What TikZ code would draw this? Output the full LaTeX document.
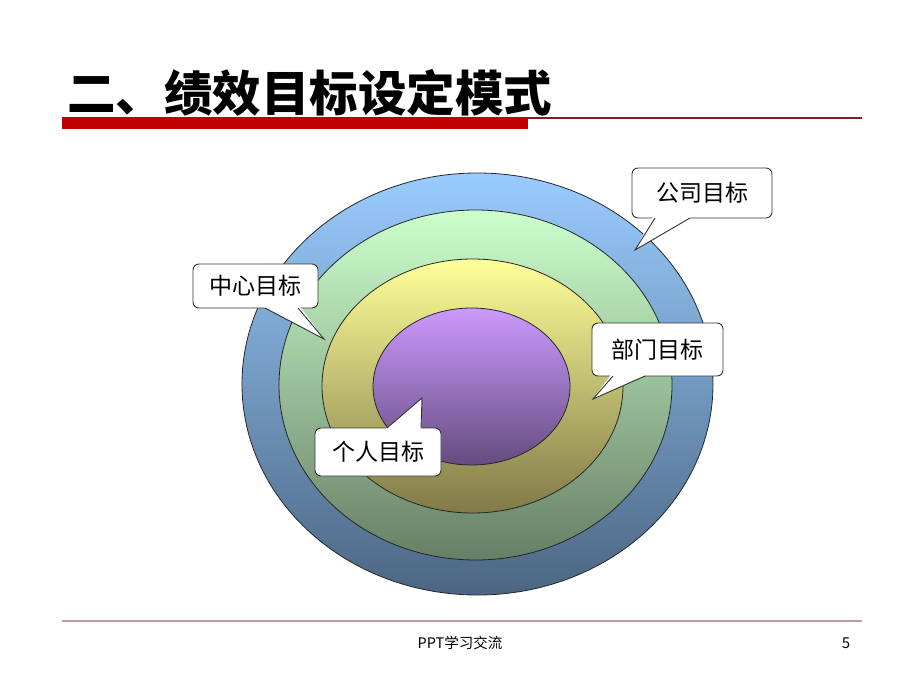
\documentclass[tikz,border=0pt]{standalone}
\usepackage{fontspec}
\setmainfont{Noto Sans CJK SC}
\usetikzlibrary{shapes.geometric}
\definecolor{titlered}{HTML}{C00000}
\definecolor{thinred}{HTML}{7F2020}
\definecolor{footline}{HTML}{C09A9A}
\definecolor{blueT}{HTML}{99CCFF}\definecolor{blueB}{HTML}{4C6682}
\definecolor{greenT}{HTML}{CCFFCC}\definecolor{greenB}{HTML}{667F66}
\definecolor{yelT}{HTML}{FFFF99}\definecolor{yelB}{HTML}{7F7A48}
\definecolor{purT}{HTML}{CC99FF}\definecolor{purB}{HTML}{654C7F}
\begin{document}
\begin{tikzpicture}[x=1pt,y=-1pt,
  ring/.style={ellipse, draw=black!85, line width=0.8pt, inner sep=0pt},
  callbox/.style={draw=black!80, line width=0.9pt, fill=white, rounded corners=6pt,
    inner sep=0pt, font=\fontsize{23}{23}\selectfont},
  pointer/.style={draw=black!80, line width=0.9pt, line join=miter},
  ]
\useasboundingbox (0,0) rectangle (920,690);
\fill[white] (0,0) rectangle (920,690);

% title
\node[anchor=west, font=\fontsize{48.5}{48.5}\selectfont\bfseries, inner sep=0pt] (title) at (67,93) {二、绩效目标设定模式};
\fill[thinred] (528,117.5) rectangle (862,119);
\fill[titlered] (62,117.5) rectangle (528,128.5);

% rings
\node[ring, minimum width=471pt, minimum height=422pt, top color=blueT, bottom color=blueB] (outer) at (477.5,384) {};
\node[ring, minimum width=393pt, minimum height=350pt, top color=greenT, bottom color=greenB] (center) at (475.5,385) {};
\node[ring, minimum width=301pt, minimum height=254pt, top color=yelT, bottom color=yelB] (dept) at (472.5,386) {};
\node[ring, minimum width=197pt, minimum height=157pt, top color=purT, bottom color=purB] (person) at (471.5,386.5) {};

% callout: company
\node[callbox, minimum width=140pt, minimum height=50pt] (c1) at (702,193) {公司目标};
\coordinate (t1) at (635,250);
\coordinate (a1) at (655,218); \coordinate (b1) at (690,218);
\fill[white] (653,216.5) -- (t1) -- (692,216.5) -- cycle;
\draw[pointer] (a1) -- (t1) -- (b1);

% callout: center
\node[callbox, minimum width=125pt, minimum height=44pt] (c2) at (255.5,286) {中心目标};
\coordinate (t2) at (324,339);
\coordinate (a2) at (265,308); \coordinate (b2) at (298,308);
\fill[white] (263,306.5) -- (t2) -- (300,306.5) -- cycle;
\draw[pointer] (a2) -- (t2) -- (b2);

% callout: department
\node[callbox, minimum width=131pt, minimum height=53pt] (c3) at (657.5,349.5) {部门目标};
\coordinate (t3) at (593,399);
\coordinate (a3) at (613,376); \coordinate (b3) at (645,376);
\fill[white] (611,374.5) -- (t3) -- (647,374.5) -- cycle;
\draw[pointer] (a3) -- (t3) -- (b3);

% callout: person
\node[callbox, minimum width=126pt, minimum height=48pt] (c4) at (378,452) {个人目标};
\coordinate (t4) at (422,398);
\coordinate (a4) at (387,428); \coordinate (b4) at (421,428);
\fill[white] (385,429.5) -- (t4) -- (421.2,429.5) -- cycle;
\draw[pointer] (a4) -- (t4) -- (b4);

% footer
\fill[footline] (62,619.5) rectangle (862,621.5);
\node[font=\fontsize{14.5}{14.5}\selectfont, inner sep=0pt] (foot) at (460,643) {PPT学习交流};
\node[font=\fontsize{15}{15}\selectfont, inner sep=0pt] (page) at (846,643) {5};
\end{tikzpicture}
\end{document}
